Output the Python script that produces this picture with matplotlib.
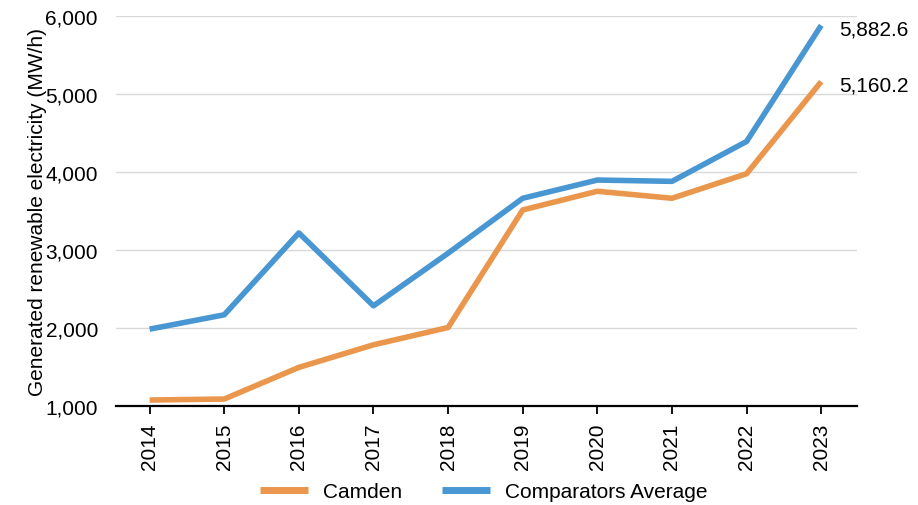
import matplotlib
matplotlib.use("Agg")
import matplotlib.pyplot as plt
from matplotlib.ticker import FuncFormatter

years = ["2014", "2015", "2016", "2017", "2018", "2019", "2020", "2021", "2022", "2023"]
camden = [1073, 1086, 1492, 1782, 2004, 3513, 3753, 3663, 3978, 5160.2]
comparators = [1983, 2167, 3218, 2282, 2958, 3663, 3897, 3880, 4392, 5882.6]

plt.rcParams["font.family"] = ["Liberation Sans", "DejaVu Sans"]

ORANGE = "#EA964C"
BLUE = "#4896D2"
FS = 15

fig = plt.figure(figsize=(9.18, 5.06), dpi=100)
ax = fig.add_axes([0.1264, 0.1962, 0.8072, 0.7698])

x = list(range(len(years)))
ax.plot(x, camden, color=ORANGE, lw=4, label="Camden", solid_capstyle="butt", zorder=3)
ax.plot(x, comparators, color=BLUE, lw=4, label="Comparators Average", solid_capstyle="butt", zorder=3)

for series in (comparators, camden):
    ax.annotate(f"{series[-1]:,.1f}", xy=(x[-1], series[-1]), xytext=(13, -2.4),
                textcoords="offset points", va="center", ha="left", fontsize=FS)

ax.set_xlim(-0.45, 9.48)
ax.set_ylim(1000, 6000)
ax.set_yticks([1000, 2000, 3000, 4000, 5000, 6000])
ax.yaxis.set_major_formatter(FuncFormatter(lambda v, p: f"{v:,.0f}"))
ax.set_xticks(x)
ax.set_xticklabels(years, rotation=90)

ax.grid(axis="y", color="#d9d9d9", lw=1)
ax.set_axisbelow(True)
for s in ("top", "right", "left"):
    ax.spines[s].set_visible(False)
ax.spines["bottom"].set_color("black")
ax.spines["bottom"].set_linewidth(1.6)

ax.tick_params(axis="y", length=0, labelsize=FS, pad=13)
ax.tick_params(axis="x", length=6, width=1.3, labelsize=FS, pad=6, color="black")

ax.set_ylabel("Generated renewable electricity (MW/h)", fontsize=FS)
ax.yaxis.set_label_coords(-0.1066, 0.5)
ax.yaxis.label.set_va("center")

leg = fig.legend(loc="center", bbox_to_anchor=(0.5267, 13 / 506), ncol=2, frameon=False,
                 fontsize=FS, handlelength=2.3, handletextpad=0.72, columnspacing=1.9)
for line in leg.get_lines():
    line.set_linewidth(5)

fig.savefig("out.png", dpi=100)
